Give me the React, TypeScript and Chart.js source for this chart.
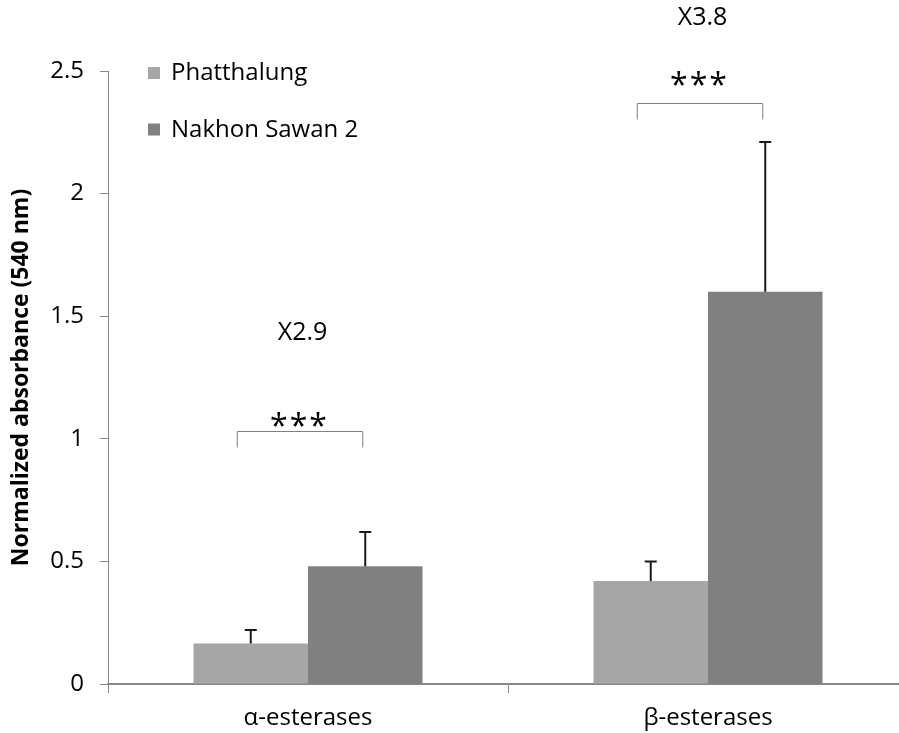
import React, { useEffect, useRef } from "react";
import { Chart, registerables } from "chart.js";

Chart.register(...registerables);

const categories = ["α-esterases", "β-esterases"];
const seriesNames = ["Phatthalung", "Nakhon Sawan 2"];
const phatthalung = [0.165, 0.42];
const nakhonSawan2 = [0.48, 1.6];
const phatthalungErr = [0.055, 0.08];
const nakhonSawan2Err = [0.14, 0.61];
const seriesColors = ["#A6A6A6", "#808080"];
const yTickLabels = ["0", "0.5", "1", "1.5", "2", "2.5"];

const sigLabels = ["***", "***"];
const foldLabels = ["X2.9", "X3.8"];
const bracketLevel = [1.03, 2.37];
const starLevel = [1.07, 2.46];
const foldLevel = [1.43, 2.715];

const FONT = "'Open Sans', 'Noto Sans', sans-serif";

const errorsPlugin = {
  id: "errorBars",
  afterDatasetsDraw(chart: any) {
    const ctx = chart.ctx;
    const y = chart.scales.y;
    const errs = [phatthalungErr, nakhonSawan2Err];
    chart.data.datasets.forEach((ds: any, di: number) => {
      const meta = chart.getDatasetMeta(di);
      meta.data.forEach((bar: any, i: number) => {
        const v = ds.data[i];
        const top = y.getPixelForValue(v + errs[di][i]);
        ctx.save();
        ctx.strokeStyle = "#1a1a1a";
        ctx.lineWidth = 2;
        ctx.beginPath();
        ctx.moveTo(bar.x, bar.y);
        ctx.lineTo(bar.x, top);
        ctx.moveTo(bar.x - 6, top);
        ctx.lineTo(bar.x + 6, top);
        ctx.stroke();
        ctx.restore();
      });
    });
  },
};

const annotationPlugin = {
  id: "annotations",
  afterDraw(chart: any) {
    const ctx = chart.ctx;
    const y = chart.scales.y;
    const m0 = chart.getDatasetMeta(0);
    const m1 = chart.getDatasetMeta(1);
    categories.forEach((_, i) => {
      const left = m0.data[i].x - 14;
      const right = m1.data[i].x - 3;
      const by = Math.round(y.getPixelForValue(bracketLevel[i])) + 0.5;
      ctx.save();
      ctx.strokeStyle = "#808080";
      ctx.lineWidth = 1;
      ctx.beginPath();
      ctx.moveTo(left + 0.5, by + 16);
      ctx.lineTo(left + 0.5, by);
      ctx.lineTo(right + 0.5, by);
      ctx.lineTo(right + 0.5, by + 16);
      ctx.stroke();
      const mid = (left + right) / 2;
      ctx.fillStyle = "#000";
      ctx.textAlign = "center";
      ctx.textBaseline = "middle";
      ctx.font = `32px ${FONT}`;
      (ctx as any).letterSpacing = "2px";
      ctx.fillText(sigLabels[i], mid, y.getPixelForValue(starLevel[i]) + 6);
      (ctx as any).letterSpacing = "0px";
      ctx.font = `25px ${FONT}`;
      ctx.fillText(foldLabels[i], mid + 3, y.getPixelForValue(foldLevel[i]));
      ctx.restore();
    });
    // legend
    const lx = chart.chartArea.left + 40;
    let ly = chart.chartArea.top - 4;
    seriesNames.forEach((name, i) => {
      ctx.save();
      ctx.fillStyle = seriesColors[i];
      ctx.fillRect(lx, ly, 12, 12);
      ctx.fillStyle = "#000";
      ctx.font = `24px ${FONT}`;
      ctx.textAlign = "left";
      ctx.textBaseline = "alphabetic";
      ctx.fillText(name, lx + 23, ly + 13);
      ctx.restore();
      ly += 56.5;
    });
  },
};

export default function App() {
  const ref = useRef<HTMLCanvasElement>(null);
  useEffect(() => {
    document.body.style.margin = "0";
    const chart = new Chart(ref.current!, {
      type: "bar",
      data: {
        labels: categories,
        datasets: [
          {
            label: seriesNames[0],
            data: phatthalung,
            backgroundColor: seriesColors[0],
            categoryPercentage: 0.5725,
            barPercentage: 1,
          },
          {
            label: seriesNames[1],
            data: nakhonSawan2,
            backgroundColor: seriesColors[1],
            categoryPercentage: 0.5725,
            barPercentage: 1,
          },
        ],
      },
      options: {
        animation: false,
        responsive: false,
        devicePixelRatio: 1,
        layout: { padding: { top: 71, right: 0, left: 0, bottom: 0 } },
        plugins: {
          legend: { display: false },
          tooltip: { enabled: false },
        },
        scales: {
          x: {
            grid: {
              display: true,
              drawOnChartArea: false,
              drawTicks: true,
              tickLength: 9,
              color: "#888",
              offset: true,
            },
            border: { display: true, color: "#888", width: 2 },
            ticks: {
              color: "#000",
              font: { family: FONT, size: 24 },
              padding: 11,
            },
            afterFit(scale: any) {
              scale.height = 49;
            },
          },
          y: {
            min: 0,
            max: 2.5,
            ticks: {
              stepSize: 0.5,
              color: "#000",
              font: { family: FONT, size: 24 },
              padding: 16,
              callback: (_v: any, i: number) => yTickLabels[i],
            },
            grid: {
              display: true,
              drawOnChartArea: false,
              drawTicks: true,
              tickLength: 8,
              color: "#888",
            },
            border: { display: true, color: "#888", width: 1 },
            title: {
              display: true,
              text: "Normalized absorbance (540 nm)",
              color: "#000",
              font: { family: FONT, size: 23, weight: "bold" },
              padding: { top: 8, bottom: 0 },
            },
            afterFit(scale: any) {
              scale.width = 108;
            },
          },
        },
      },
      plugins: [errorsPlugin, annotationPlugin],
    });
    return () => chart.destroy();
  }, []);
  return (
    <div style={{ width: 899, height: 733, overflow: "hidden" }}>
      <canvas ref={ref} width={908} height={733} style={{ display: "block" }} />
    </div>
  );
}
